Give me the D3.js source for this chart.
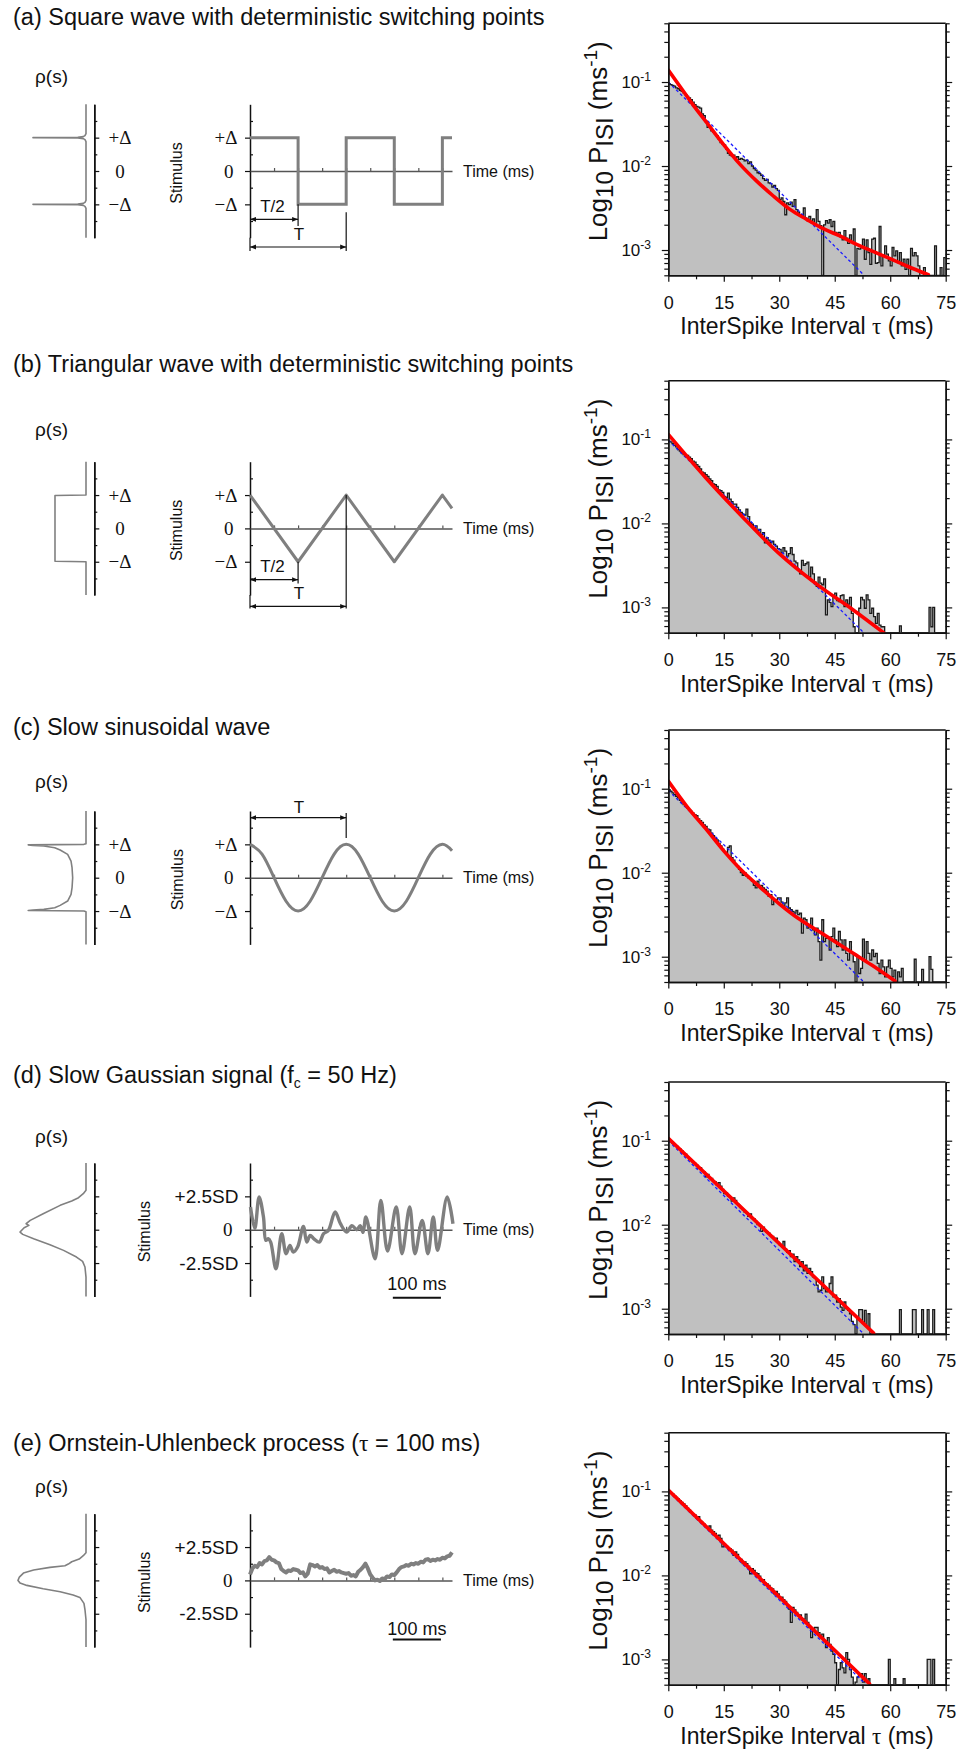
<!DOCTYPE html>
<html><head><meta charset="utf-8"><title>ISI distributions</title>
<script src="https://cdn.jsdelivr.net/npm/d3@7/dist/d3.min.js"></script>
<style>html,body{margin:0;padding:0;background:#fff}svg{display:block}</style>
</head><body><div id="chart"></div>
<script>
const n = null;
// ---------------- DATA ----------------
const titleA = [{t:"(a) Square wave with deterministic switching points"}];
const titleB = [{t:"(b) Triangular wave with deterministic switching points"}];
const titleC = [{t:"(c) Slow sinusoidal wave"}];
const titleD = [{t:"(d) Slow Gaussian signal (f"},{t:"c",sub:true},{t:" = 50 Hz)",after:true}];
const titleE = [{t:"(e) Ornstein-Uhlenbeck process ("},{t:"τ",serif:true},{t:" = 100 ms)"}];

const isiTicks = [0,15,30,45,60,75];
const isiMinor = [7.5,22.5,37.5,52.5,67.5];
const pDecades = [0.1,0.01,0.001];
const pDecadeExp = ["-1","-2","-3"];
const pMinor = [5e-4,6e-4,7e-4,8e-4,9e-4,2e-3,3e-3,4e-3,5e-3,6e-3,7e-3,8e-3,9e-3,2e-2,3e-2,4e-2,5e-2,6e-2,7e-2,8e-2,9e-2,0.2,0.3,0.4,0.5];
const deltaLabels = ["+Δ","0","−Δ"];
const sdLabels = ["+2.5SD","0","-2.5SD"];
const labelLevels = [1,0,-1];
const timeTicks = [50,100,150,200,250,300,350,400];

// histograms: log10 P_ISI per 0.5 ms bin (null = empty bin)
const histA = [
-1.02,-1.03,-1.04,-1.05,-1.07,-1.08,-1.10,-1.11,-1.13,-1.15,
-1.17,-1.19,-1.21,-1.24,-1.27,-1.29,-1.30,-1.31,-1.38,-1.40,
-1.47,-1.54,-1.53,-1.58,-1.60,-1.62,-1.64,-1.68,-1.72,-1.74,
-1.75,-1.80,-1.85,-1.87,-1.88,-1.87,-1.90,-1.89,-1.92,-1.91,
-1.92,-1.94,-1.93,-1.97,-1.95,-2.00,-2.03,-2.05,-2.08,-2.09,
-2.11,-2.15,-2.17,-2.16,-2.20,-2.21,-2.25,-2.23,-2.27,-2.29,
-2.40,-2.38,-2.42,-2.58,-2.44,-2.46,-2.43,-2.48,-2.40,-2.52,
-2.55,-2.58,-2.60,-2.50,-2.62,-2.65,-2.60,-2.67,-2.63,-2.69,
-2.52,-2.66,-2.71,n,-2.70,-2.65,-2.68,-2.64,-2.72,-2.66,
-2.79,-2.80,-2.79,-2.85,-2.88,-2.77,-2.86,-2.92,-2.82,-2.90,
-2.75,n,-2.98,-2.99,-2.97,-2.87,-3.11,-2.88,-3.03,-3.17,
-2.87,-2.86,-3.16,-3.15,-2.72,-3.19,-3.07,-2.95,-3.05,-3.13,
-3.19,-2.97,-3.07,-3.01,-3.15,-3.03,-3.19,-3.11,-3.23,-3.11,
n,-2.98,-3.07,-3.03,-3.07,-3.19,n,n,-3.21,n,
n,n,n,n,-2.95,n,n,-3.21,n,-3.09];
const histB = [
-1.02,-1.03,-1.05,-1.07,-1.09,-1.12,-1.14,-1.16,-1.18,-1.20,
-1.19,-1.21,-1.23,-1.26,-1.27,-1.30,-1.32,-1.35,-1.39,-1.40,
-1.42,-1.44,-1.47,-1.49,-1.53,-1.54,-1.56,-1.60,-1.61,-1.63,
-1.68,-1.69,-1.64,-1.71,-1.74,-1.77,-1.77,-1.81,-1.84,-1.87,
-1.89,-1.90,-1.83,-1.92,-1.99,-2.01,-2.05,-2.03,-2.09,-2.07,
-2.13,-2.11,-2.23,-2.17,-2.20,-2.23,-2.21,-2.25,-2.27,-2.30,
-2.31,-2.35,-2.29,-2.33,-2.39,-2.36,-2.29,-2.37,-2.45,-2.47,
-2.56,-2.60,-2.44,-2.50,-2.48,-2.46,-2.64,-2.52,-2.60,-2.70,
-2.75,-2.64,-2.71,-2.73,-2.66,-3.09,-2.91,-2.94,-2.99,-2.88,
-2.83,-2.92,-2.93,-2.86,-2.85,-2.99,-2.91,-2.96,-2.88,-3.07,
-3.23,n,n,-3.01,-2.88,-2.91,-3.01,-2.85,-2.91,-3.07,
-3.01,-3.11,-3.19,-3.07,-3.21,-3.23,-3.23,n,n,n,
n,n,n,n,n,-3.22,n,n,n,n,
n,n,n,n,n,n,n,n,n,n,
n,-3.00,-3.23,-3.00,n,n,n,n,n,n];
const histC = [
-1.01,-1.03,-1.05,-1.07,-1.09,-1.11,-1.14,-1.16,-1.19,-1.21,
-1.23,-1.25,-1.27,-1.29,-1.31,-1.32,-1.36,-1.38,-1.40,-1.43,
-1.45,-1.48,-1.49,-1.53,-1.56,-1.59,-1.61,-1.65,-1.68,-1.72,
-1.75,-1.77,-1.70,-1.68,-1.82,-1.85,-1.90,-1.92,-1.96,-2.00,
-2.03,-2.00,-2.04,-2.06,-2.08,-2.10,-2.15,-2.18,-2.10,-2.15,
-2.15,-2.18,-2.20,-2.22,-2.28,-2.26,-2.38,-2.34,-2.32,-2.30,
-2.30,-2.35,-2.40,-2.36,-2.30,-2.42,-2.44,-2.46,-2.48,-2.45,
-2.50,-2.48,-2.72,-2.54,-2.56,-2.66,-2.64,-2.54,-2.68,-2.74,
-2.66,-2.82,-3.04,-2.56,-2.82,-2.78,-2.78,-2.92,-2.76,-2.66,
-2.80,-2.88,-2.70,-2.80,-2.92,-2.80,-2.96,-3.04,-2.82,-2.96,
-3.06,n,-3.00,-3.20,-3.14,-2.79,-3.04,-2.82,-2.96,-3.04,
-2.92,-3.00,-2.96,-3.08,-3.20,-3.04,-3.12,-3.24,-3.12,-3.04,
-3.14,-3.24,-3.16,n,-3.18,-3.24,-3.14,n,n,n,
n,n,n,-3.03,n,n,n,-3.15,n,n,
n,-3.00,-3.15,n,n,n,n,n,n,n];
const histD = [
-1.00,-1.01,-1.03,-1.05,-1.06,-1.09,-1.10,-1.12,-1.15,-1.16,
-1.19,-1.22,-1.23,-1.26,-1.27,-1.29,-1.33,-1.32,-1.36,-1.37,
-1.43,-1.40,-1.44,-1.45,-1.48,-1.49,-1.53,-1.50,-1.54,-1.58,
-1.63,-1.62,-1.66,-1.67,-1.72,-1.68,-1.71,-1.75,-1.77,-1.80,
-1.82,-1.85,-1.86,-1.90,-1.87,-1.92,-1.93,-1.96,-2.00,-2.01,
-2.08,-2.03,-2.07,-2.09,-2.10,-2.13,-2.14,-2.17,-2.16,-2.21,
-2.24,-2.25,-2.20,-2.29,-2.33,-2.31,-2.38,-2.35,-2.44,-2.38,
-2.42,-2.50,-2.44,-2.55,-2.48,-2.58,-2.52,-2.56,-2.62,-2.64,
-2.72,-2.80,-2.78,-2.62,-2.76,-2.80,-2.76,-2.70,-2.62,-2.86,
-2.84,-2.92,-2.88,-2.98,-3.02,-2.92,-3.00,-3.02,-3.06,-3.15,
-3.19,n,-3.12,-3.01,-3.01,-3.17,-3.02,-3.21,-3.06,n,
n,n,n,n,n,n,n,n,n,n,
n,n,n,n,n,-3.01,n,n,n,n,
n,n,-3.01,-3.01,n,n,n,-3.01,n,n,
-3.01,n,n,-3.01,n,n,n,n,n,n];
const histE = [
-1.00,-1.02,-1.03,-1.05,-1.07,-1.09,-1.11,-1.13,-1.15,-1.17,
-1.20,-1.22,-1.25,-1.27,-1.28,-1.32,-1.30,-1.35,-1.37,-1.39,
-1.42,-1.43,-1.41,-1.46,-1.48,-1.50,-1.53,-1.52,-1.56,-1.66,
-1.63,-1.65,-1.67,-1.68,-1.70,-1.76,-1.72,-1.75,-1.80,-1.81,
-1.86,-1.84,-1.86,-1.89,-1.98,-1.92,-1.94,-1.97,-1.98,-2.01,
-2.06,-2.05,-2.09,-2.10,-2.12,-2.15,-2.16,-2.22,-2.19,-2.22,
-2.27,-2.26,-2.29,-2.31,-2.36,-2.40,-2.56,-2.38,-2.41,-2.44,
-2.48,-2.47,-2.53,-2.52,-2.46,-2.56,-2.62,-2.74,-2.64,-2.62,
-2.62,-2.68,-2.74,-2.70,-2.78,-2.86,-2.74,-2.82,-2.90,-2.94,
-3.04,n,-3.12,-3.04,-3.10,-3.16,-2.92,-3.00,-3.12,-3.21,
n,-3.27,-3.21,-3.17,-3.17,-3.27,-3.17,-3.27,-3.23,n,
n,n,n,n,n,n,n,n,n,-3.00,
n,n,-3.23,n,n,n,n,-3.23,n,n,
n,n,n,n,n,n,n,n,n,n,
-3.00,-3.00,n,-3.00,n,n,n,n,n,n];

// fitted curves (ms, log10 P)
const redA_t = [0,5,6.8,10.4,14.9,19.4,23.9,28.4,32.9,37.4,41.9,46.4,50.9,55.5,60,64.5,70.3];
const redA_v = [-0.857,-1.167,-1.278,-1.484,-1.742,-1.98,-2.18,-2.357,-2.516,-2.635,-2.746,-2.833,-2.933,-3.02,-3.103,-3.19,-3.294];
const redB_t = [0,10,20,30,40,50,58.2];
const redB_v = [-0.94,-1.45,-1.92,-2.36,-2.72,-3.03,-3.30];
const redC_t = [0,5,10,15,20,25,30,35,40,45,50,55,61.3];
const redC_v = [-0.91,-1.21,-1.47,-1.74,-1.98,-2.18,-2.37,-2.54,-2.68,-2.82,-2.96,-3.10,-3.29];
const redD_t = [0,55.5];
const redD_v = [-0.97,-3.29];
const redE_t = [0,54.4];
const redE_v = [-0.984,-3.29];
const blueA_t = [0,52.7], blueA_v = [-1.0,-3.29];
const blueB_t = [0,52.6], blueB_v = [-1.01,-3.29];
const blueC_t = [0,52.6], blueC_v = [-1.02,-3.29];
const blueD_t = [0,52.6], blueD_v = [-1.0,-3.29];
const blueE_t = [0,53.2], blueE_v = [-1.0,-3.29];

// stimuli (time in ms; amplitude in Δ units for a-c, SD units for d-e)
const squareT = [0,100,100,200,200,300,300,400,400,420];
const squareV = [1,1,-1,-1,1,1,-1,-1,1,1];
const triT = [0,100,200,300,400,420];
const triV = [1,-1,1,-1,1,0.6];
const sineT = [0,25,50,75,100,125,150,175,200,225,250,275,300,325,350,375,400,420];
const sineV = [1,0.707,0,-0.707,-1,-0.707,0,0.707,1,0.707,0,-0.707,-1,-0.707,0,0.707,1,0.81];
const gaussT = [1,10,19,28,33,38,43,54,66,75,83,90,99,111,118,125,133,144,153,163,177,188,201,212,222,229,235,241,260,272,286,304,316,332,343,358,370,381,390,410,422];
const gaussV = [1.7,0.1,2.45,0.95,-0.8,-0.68,-0.93,-2.93,-0.3,-1.8,-1.18,-1.68,-1.3,0.25,-0.93,-0.43,-0.68,-0.93,-0.3,-0.05,1.33,0.45,-0.18,0.3,0.0,0.3,-0.2,0.95,-2.18,2.2,-1.6,1.7,-1.8,1.7,-1.8,0.7,-1.8,0.95,-1.55,2.45,0.45];
const ouT = [0,5,10,15,20,25,30,35,40,45,50,55,60,65,70,75,80,85,90,95,100,105,110,115,120,125,130,135,140,145,150,155,160,165,170,175,180,185,190,195,200,205,210,215,220,225,230,235,240,245,250,255,260,265,270,275,280,285,290,295,300,305,310,315,320,325,330,335,340,345,350,355,360,365,370,375,380,385,390,395,400,405,410,415,420];
const ouV = [0.45,0.9,1.1,1.0,1.3,1.2,1.45,1.5,1.75,1.55,1.5,1.35,1.3,0.85,0.7,0.6,0.75,0.7,0.85,0.8,0.75,0.55,0.6,0.3,0.5,1.2,1.15,1.05,1.15,0.95,1.0,0.85,0.9,0.6,0.7,0.8,0.65,0.7,0.6,0.55,0.5,0.55,0.35,0.4,0.3,0.65,0.8,1.0,1.25,0.9,0.45,0.2,0.0,0.05,-0.05,0.15,0.1,0.3,0.25,0.45,0.4,0.6,0.85,1.0,1.05,1.15,1.1,1.25,1.2,1.3,1.25,1.4,1.35,1.55,1.6,1.45,1.55,1.5,1.6,1.55,1.7,1.65,1.8,1.85,2.1];

// stimulus densities rho(s): s in major-tick units, rho normalised
const densA_s = [-2,-1.12,-1.06,-1.03,-1.01,-1.0,-0.99,-0.97,-0.94,-0.88,0.88,0.94,0.97,0.99,1.0,1.01,1.03,1.06,1.12,2];
const densA_r = [0,0,0.015,0.04,0.12,0.78,0.12,0.04,0.015,0,0,0.015,0.04,0.12,0.78,0.12,0.04,0.015,0,0];
const densB_s = [-2,-1.0,-0.985,0.985,1.0,2];
const densB_r = [0,0,0.456,0.456,0,0];
const densC_s = [-2,-1.02,-1.0,-0.985,-0.97,-0.95,-0.9,-0.83,-0.7,-0.5,-0.3,0,0.3,0.5,0.7,0.83,0.9,0.95,0.97,0.985,1.0,1.02,2];
const densC_r = [0,0,0.03,0.85,0.78,0.62,0.46,0.38,0.27,0.22,0.205,0.196,0.205,0.22,0.27,0.38,0.46,0.62,0.78,0.85,0.03,0,0];
const densD_s = [2,1.18,1.08,0.96,0.86,0.73,0.48,0.28,0.18,0.13,0.06,-0.07,-0.14,-0.27,-0.45,-0.62,-0.82,-0.95,-1.12,-1.42,-2];
const densD_r = [0,0,0.04,0.11,0.21,0.38,0.63,0.82,0.88,0.84,0.91,0.97,0.93,0.77,0.53,0.33,0.14,0.05,0.015,0,0];
const densE_s = [2,0.83,0.74,0.64,0.56,0.49,0.44,0.39,0.31,0.22,0.1,0,-0.08,-0.15,-0.25,-0.34,-0.44,-0.51,-0.69,-0.88,-1.18,-2];
const densE_r = [0,0,0.04,0.1,0.21,0.26,0.31,0.53,0.77,0.92,0.98,1.0,0.97,0.87,0.63,0.38,0.19,0.09,0.03,0.015,0,0];

// ---------------- LAYOUT ----------------
const SANS = "'Liberation Sans', Arial, Helvetica, sans-serif";
const SERIF = "'Liberation Serif', 'Times New Roman', serif";
const W = 965, H = 1750;
const histTop = [23.3, 380.7, 730, 1082, 1432.7];
const titleBase = [25, 372, 735, 1083, 1451];
const rhoCenter = [-95, -99, -97, -94, -94];
const stimLabelX = [176, 176, 177, 144, 144];
const HX0 = 668.3, HX1 = 945.7, HH = 252;

const panels = [
  {title:titleA, kind:"square", wT:squareT, wV:squareV, dS:densA_s, dR:densA_r, hist:histA, rT:redA_t, rV:redA_v, bT:blueA_t, bV:blueA_v},
  {title:titleB, kind:"tri", wT:triT, wV:triV, dS:densB_s, dR:densB_r, hist:histB, rT:redB_t, rV:redB_v, bT:blueB_t, bV:blueB_v},
  {title:titleC, kind:"sine", wT:sineT, wV:sineV, dS:densC_s, dR:densC_r, hist:histC, rT:redC_t, rV:redC_v, bT:blueC_t, bV:blueC_v},
  {title:titleD, kind:"gauss", wT:gaussT, wV:gaussV, dS:densD_s, dR:densD_r, hist:histD, rT:redD_t, rV:redD_v, bT:blueD_t, bV:blueD_v},
  {title:titleE, kind:"ou", wT:ouT, wV:ouV, dS:densE_s, dR:densE_r, hist:histE, rT:redE_t, rV:redE_v, bT:blueE_t, bV:blueE_v}
];

const svg = d3.select("#chart").append("svg").attr("width", W).attr("height", H)
  .attr("font-family", SANS);
svg.append("rect").attr("width", W).attr("height", H).attr("fill", "#fff");
const defs = svg.append("defs");
defs.append("marker").attr("id","arr").attr("viewBox","0 0 10 10")
  .attr("refX",10).attr("refY",5).attr("markerWidth",7).attr("markerHeight",6)
  .attr("markerUnits","userSpaceOnUse").attr("orient","auto-start-reverse")
  .append("path").attr("d","M0,1 L10,5 L0,9 z").attr("fill","#111");

function styleAxis(sel, w) {
  sel.select(".domain").attr("stroke","#111").attr("stroke-width", w || 1.5);
  sel.selectAll(".tick line").attr("stroke","#111").attr("stroke-width",1.2);
  sel.attr("font-family", SANS);
}

panels.forEach((P, i) => {
  const g = svg.append("g");
  const top = histTop[i], bot = top + HH;
  const zero = top + 147.7;

  // ---- title ----
  const tt = g.append("text").attr("x", 13).attr("y", titleBase[i]).attr("font-size", 23.5).attr("fill","#111");
  P.title.forEach(seg => {
    const ts = tt.append("tspan").text(seg.t);
    if (seg.sub) ts.attr("font-size", 14).attr("dy", 5);
    if (seg.after) ts.attr("dy", -5);
    if (seg.serif) ts.attr("font-family", SERIF);
  });

  // ---- histogram ----
  const x = d3.scaleLinear().domain([0,75]).range([HX0, HX1]);
  const y = d3.scaleLog().domain([5e-4, 0.5]).range([bot, top]).clamp(true);
  const clipId = "clip" + i;
  defs.append("clipPath").attr("id", clipId).append("rect")
    .attr("x", HX0).attr("y", top).attr("width", HX1 - HX0).attr("height", HH);
  const pts = P.hist.map((v,k) => [k*0.5, v == null ? 5e-4 : Math.pow(10, v)]);
  pts.push([P.hist.length*0.5, pts[pts.length-1][1]]);
  const hg = g.append("g").attr("clip-path", `url(#${clipId})`);
  hg.append("path").datum(pts)
    .attr("d", d3.area().x(d=>x(d[0])).y0(bot).y1(d=>y(d[1])).curve(d3.curveStepAfter))
    .attr("fill", "#c0c0c0");
  hg.append("path").datum(pts)
    .attr("d", d3.line().x(d=>x(d[0])).y(d=>y(d[1])).curve(d3.curveStepAfter))
    .attr("fill","none").attr("stroke","#1a1a1a").attr("stroke-width",1.3);
  const bl = P.bT.map((t,k)=>[t, Math.pow(10, P.bV[k])]);
  hg.append("path").datum(bl)
    .attr("d", d3.line().x(d=>x(d[0])).y(d=>y(d[1])))
    .attr("fill","none").attr("stroke","#1a1aff").attr("stroke-width",1.3).attr("stroke-dasharray","3,2.5");
  const rd = P.rT.map((t,k)=>[t, Math.pow(10, P.rV[k])]);
  hg.append("path").datum(rd)
    .attr("d", d3.line().x(d=>x(d[0])).y(d=>y(d[1])).curve(d3.curveMonotoneX))
    .attr("fill","none").attr("stroke","#ff0000").attr("stroke-width",3.6).attr("stroke-linecap","round");

  // axes
  const aL = g.append("g").attr("transform",`translate(${HX0},0)`)
    .call(d3.axisLeft(y).tickValues(pDecades).tickSize(6.5).tickSizeOuter(0).tickFormat(""));
  styleAxis(aL);
  const aLm = g.append("g").attr("transform",`translate(${HX0},0)`)
    .call(d3.axisLeft(y).tickValues(pMinor).tickSize(4).tickSizeOuter(0).tickFormat(""));
  styleAxis(aLm);
  const aR = g.append("g").attr("transform",`translate(${HX1},0)`)
    .call(d3.axisRight(y).tickValues(pDecades).tickSize(6.5).tickSizeOuter(0).tickFormat(""));
  styleAxis(aR);
  const aRm = g.append("g").attr("transform",`translate(${HX1},0)`)
    .call(d3.axisRight(y).tickValues(pMinor).tickSize(4).tickSizeOuter(0).tickFormat(""));
  styleAxis(aRm);
  const aB = g.append("g").attr("transform",`translate(0,${bot})`)
    .call(d3.axisBottom(x).tickValues(isiTicks).tickSize(6.5).tickSizeOuter(0).tickPadding(14).tickFormat(d3.format("d")));
  styleAxis(aB);
  aB.selectAll(".tick text").attr("font-size", 18).attr("fill","#111").attr("font-family", SANS);
  const aBm = g.append("g").attr("transform",`translate(0,${bot})`)
    .call(d3.axisBottom(x).tickValues(isiMinor).tickSize(4).tickSizeOuter(0).tickFormat(""));
  styleAxis(aBm);
  g.append("line").attr("x1",HX0).attr("x2",HX1).attr("y1",top).attr("y2",top)
    .attr("stroke","#111").attr("stroke-width",1.5);

  // y tick labels 10^-k
  pDecades.forEach((v,k) => {
    const t = g.append("text").attr("x", 651).attr("y", y(v) + 6).attr("text-anchor","end").attr("fill","#111");
    t.append("tspan").attr("font-size", 17).text("10");
    t.append("tspan").attr("font-size", 12).attr("dy", -7).text(pDecadeExp[k]);
  });
  // y title
  const yt = g.append("text").attr("transform",`translate(607,${top+118}) rotate(-90)`)
    .attr("text-anchor","middle").attr("fill","#111").attr("font-size",26);
  yt.append("tspan").text("Log");
  yt.append("tspan").attr("font-size",24).attr("dy",6).text("10");
  yt.append("tspan").attr("dy",-6).text(" P");
  yt.append("tspan").attr("font-size",24).attr("dy",6).text("ISI");
  yt.append("tspan").attr("dy",-6).text(" (ms");
  yt.append("tspan").attr("font-size",19).attr("dy",-10).text("-1");
  yt.append("tspan").attr("dy",10).text(")");
  // x title
  const xt = g.append("text").attr("x", (HX0+HX1)/2).attr("y", bot + 59)
    .attr("text-anchor","middle").attr("font-size",23).attr("fill","#111");
  xt.append("tspan").text("InterSpike Interval ");
  xt.append("tspan").attr("font-family", SERIF).text("τ");
  xt.append("tspan").text(" (ms)");

  // ---- left: density & stimulus ----
  const isSD = (P.kind === "gauss" || P.kind === "ou");
  const yU = d3.scaleLinear().domain([-2,2]).range([zero+66.7, zero-66.7]);
  const yS = isSD ? d3.scaleLinear().domain([-5,5]).range([zero+66.7, zero-66.7]) : yU;
  const tx = d3.scaleLinear().domain([0,420]).range([250,452]);
  const dx = d3.scaleLinear().domain([0,1]).range([86,18]);

  g.append("text").attr("x",35).attr("y", zero + rhoCenter[i] + 7).attr("font-size",19).attr("fill","#111").text("ρ(s)");

  // density axis
  const dA = g.append("g").attr("transform","translate(94.3,0)")
    .call(d3.axisRight(yU).tickValues(labelLevels).tickSize(5).tickSizeOuter(0).tickFormat(""));
  styleAxis(dA);
  const dAm = g.append("g").attr("transform","translate(94.3,0)")
    .call(d3.axisRight(yU).tickValues([-1.5,-0.5,0.5,1.5]).tickSize(3).tickSizeOuter(0).tickFormat(""));
  styleAxis(dAm);
  // density curve
  const dpts = P.dS.map((s,k)=>[P.dR[k], s]);
  g.append("path").datum(dpts)
    .attr("d", d3.line().x(d=>dx(d[0])).y(d=>yU(d[1])))
    .attr("fill","none").attr("stroke","#808080").attr("stroke-width",1.6).attr("stroke-linejoin","round");

  // stimulus axis
  const sA = g.append("g").attr("transform","translate(250,0)")
    .call(d3.axisLeft(yU).tickValues(labelLevels).tickSize(5).tickSizeOuter(0).tickFormat(""));
  styleAxis(sA);
  const sAm = g.append("g").attr("transform","translate(250,0)")
    .call(d3.axisRight(yU).tickValues([-1.5,-0.5,0.5,1.5]).tickSize(3).tickSizeOuter(0).tickFormat(""));
  styleAxis(sAm);
  sAm.select(".domain").remove();

  // labels
  if (!isSD) {
    labelLevels.forEach((lv,k) => {
      g.append("text").attr("x",120).attr("y", yU(lv)+6.5).attr("text-anchor","middle")
        .attr("font-family",SERIF).attr("font-size",19).attr("fill","#111").text(deltaLabels[k]);
      g.append("text").attr("x", lv===0 ? 233.5 : 237.5).attr("y", yU(lv)+6.5).attr("text-anchor","end")
        .attr("font-family",SERIF).attr("font-size",19).attr("fill","#111").text(deltaLabels[k]);
    });
  } else {
    labelLevels.forEach((lv,k) => {
      g.append("text").attr("x", lv===0 ? 232.5 : 238.5).attr("y", yU(lv)+6.5).attr("text-anchor","end")
        .attr("font-family", lv===0 ? SERIF : SANS).attr("font-size",19).attr("fill","#111").text(sdLabels[k]);
    });
  }
  g.append("text").attr("transform",`translate(${stimLabelX[i]+6},${zero+2}) rotate(-90)`)
    .attr("text-anchor","middle").attr("font-size",16).attr("fill","#111").text("Stimulus");

  // time axis
  const tA = g.append("g").attr("transform",`translate(0,${zero})`)
    .call(d3.axisTop(tx).tickValues(timeTicks).tickSize(3).tickSizeOuter(0).tickFormat(""));
  tA.select(".domain").attr("stroke","#555").attr("stroke-width",1.5);
  tA.selectAll(".tick line").attr("stroke","#555").attr("stroke-width",1.2);
  g.append("text").attr("x",463).attr("y",zero+5.5).attr("font-size",16).attr("fill","#111").text("Time (ms)");

  // waveform
  const wpts = P.wT.map((t,k)=>[t, P.wV[k]]);
  let curve = d3.curveLinear;
  if (P.kind === "sine") curve = d3.curveNatural;
  if (P.kind === "gauss") curve = d3.curveCatmullRom.alpha(0.5);
  g.append("path").datum(wpts)
    .attr("d", d3.line().x(d=>tx(d[0])).y(d=>yS(d[1])).curve(curve))
    .attr("fill","none").attr("stroke","#7f7f7f")
    .attr("stroke-width", P.kind === "ou" ? 4 : (P.kind === "gauss" ? 3.4 : 3))
    .attr("stroke-linejoin", P.kind === "square" ? "miter" : "round");

  // annotations
  const ann = (x1,y1,x2,y2,arrow) => {
    const l = g.append("line").attr("x1",x1).attr("y1",y1).attr("x2",x2).attr("y2",y2)
      .attr("stroke","#111").attr("stroke-width",1.2);
    if (arrow) l.attr("marker-start","url(#arr)").attr("marker-end","url(#arr)");
  };
  const lbl = (xx,yy,txt) => g.append("text").attr("x",xx).attr("y",yy+6).attr("text-anchor","middle")
    .attr("font-size",17).attr("fill","#111").text(txt);
  if (P.kind === "square" || P.kind === "tri") {
    const a = P.kind === "square" ? {h:48.3, f:76, lh:35, lf:63.3, v2top:41.3} : {h:51.3, f:78, lh:37.3, lf:64.3, v2top:-33.4};
    ann(250, zero+66.7, 250, zero+80, false);
    ann(tx(100), yU(-1), tx(100), zero+55, false);
    ann(tx(200), zero+a.v2top, tx(200), zero+80, false);
    ann(tx(0), zero+a.h, tx(100), zero+a.h, true);
    ann(tx(0), zero+a.f, tx(200), zero+a.f, true);
    lbl(272.5, zero+a.lh, "T/2");
    lbl(299, zero+a.lf, "T");
  } else if (P.kind === "sine") {
    ann(tx(200), zero-64.7, tx(200), zero-39.7, false);
    ann(tx(0), zero-60, tx(200), zero-60, true);
    lbl(299, zero-71, "T");
  } else {
    const sb = P.kind === "gauss" ? {bar:68, txt:54} : {bar:59, txt:48};
    g.append("line").attr("x1",tx(297)).attr("x2",tx(397)).attr("y1",zero+sb.bar).attr("y2",zero+sb.bar)
      .attr("stroke","#111").attr("stroke-width",2);
    g.append("text").attr("x",tx(347)).attr("y",zero+sb.txt+6.5).attr("text-anchor","middle")
      .attr("font-size",18).attr("fill","#111").text("100 ms");
  }
});
</script></body></html>
